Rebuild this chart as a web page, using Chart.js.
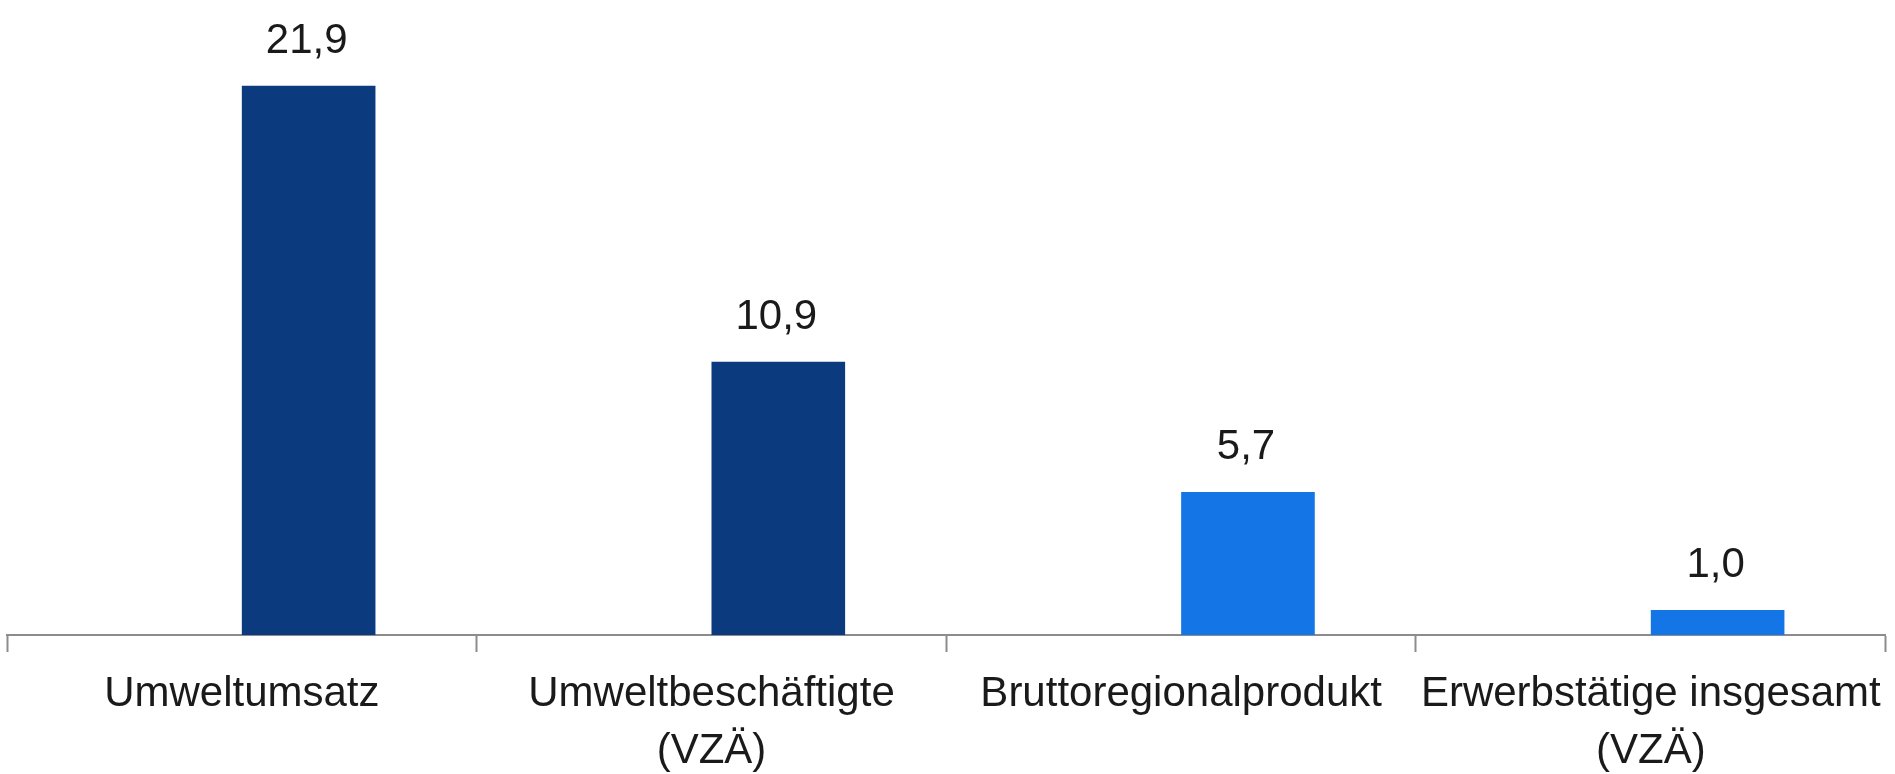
<!DOCTYPE html>
<html lang="de">
<head>
<meta charset="utf-8">
<title>Umweltwirtschaft</title>
<script src="https://cdn.jsdelivr.net/npm/chart.js@4"></script>
<style>
    html, body { margin: 0; padding: 0; background: #fff; }
    #wrap { width: 1895px; height: 774px; position: relative; }
</style>
</head>
<body>
<div id="wrap"><canvas id="chart"></canvas></div>
<script>
// Kategorien (mehrzeilige Beschriftungen als Arrays)
const categories = [
    ['Umweltumsatz'],
    ['Umweltbeschäftigte', '(VZÄ)'],
    ['Bruttoregionalprodukt'],
    ['Erwerbstätige insgesamt', '(VZÄ)']
];
// Werte
const values = [21.9, 10.9, 5.7, 1.0];
// Leere Reihe, damit die Balken rechts neben der Kategoriemitte stehen
const spacer = [null, null, null, null];
const barColors = ['#0c3a7f', '#0c3a7f', '#1475e6', '#1475e6'];

const FONT = '"Liberation Sans", Arial, sans-serif';
const formatValue = (v) => v.toFixed(1).replace('.', ',');

// Werte über den Balken schreiben
const valueLabels = {
    id: 'valueLabels',
    afterDatasetsDraw(chart) {
        const ctx = chart.ctx;
        const meta = chart.getDatasetMeta(1);
        ctx.save();
        ctx.font = '42px ' + FONT;
        ctx.fillStyle = '#1a1a1a';
        ctx.textAlign = 'center';
        ctx.textBaseline = 'alphabetic';
        meta.data.forEach((bar, i) => {
            ctx.fillText(formatValue(values[i]), bar.x - 2, bar.y - 33);
        });
        ctx.restore();
    }
};

const ctx = document.getElementById('chart').getContext('2d');
new Chart(ctx, {
    type: 'bar',
    data: {
        labels: categories,
        datasets: [
            { label: 'spacer', data: spacer, backgroundColor: 'transparent' },
            { label: 'Werte', data: values, backgroundColor: barColors }
        ]
    },
    options: {
        responsive: true,
        maintainAspectRatio: false,
        animation: false,
        categoryPercentage: 0.569,
        barPercentage: 1.0,
        layout: { autoPadding: false, padding: { left: 7, right: 2, top: 8, bottom: 0 } },
        plugins: {
            legend: { display: false },
            tooltip: { enabled: false }
        },
        scales: {
            x: {
                // feste Höhe für die Beschriftungszeile
                afterFit(scale) { scale.height = 139; },
                grid: {
                    offset: true,
                    drawOnChartArea: false,
                    drawTicks: true,
                    tickLength: 17,
                    tickWidth: 2,
                    tickColor: '#8c8c8c'
                },
                border: { display: true, color: '#8c8c8c', width: 2 },
                ticks: {
                    color: '#1a1a1a',
                    padding: 14,
                    maxRotation: 0,
                    autoSkip: false,
                    font: { family: FONT, size: 42, lineHeight: 1.36 }
                }
            },
            y: {
                display: false,
                min: 0,
                max: 25
            }
        }
    },
    plugins: [valueLabels]
});
</script>
</body>
</html>
